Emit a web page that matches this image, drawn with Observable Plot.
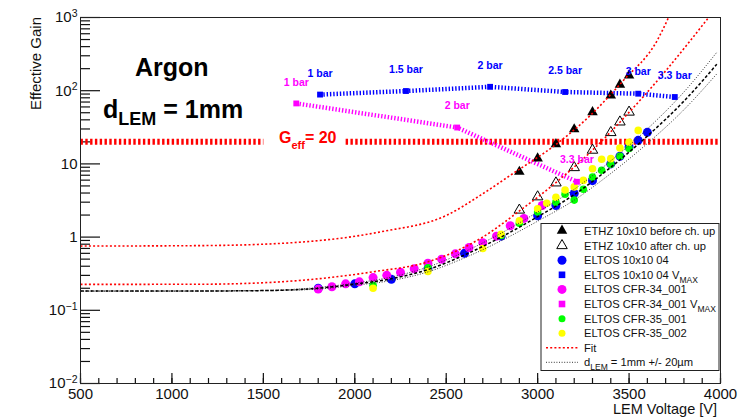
<!DOCTYPE html>
<html><head><meta charset="utf-8">
<script src="https://cdn.jsdelivr.net/npm/d3@7"></script>
<script src="https://cdn.jsdelivr.net/npm/@observablehq/plot@0.6"></script>
<style>
body{margin:0;background:#fff;}
#chart svg{display:block;}
</style></head><body><div id="chart"></div>
<script>
// ---------- data ----------
const ethzBeforeV = [2900, 3000, 3100, 3200, 3300, 3400, 3450, 3500];
const ethzBeforeG = [7.8, 11.9, 18.6, 29.7, 51, 86, 121, 162];
const ethzAfterV  = [2900, 3000, 3100, 3200, 3300, 3400, 3450, 3500];
const ethzAfterG  = [2.34, 3.55, 5.5, 8.9, 15.4, 26.8, 37.4, 51];

const eltos04V = [1800, 2000, 2200, 2400, 2600, 2800, 3000, 3100, 3200, 3300, 3400, 3450, 3500, 3550, 3600];
const eltos04G = [0.20, 0.23, 0.265, 0.37, 0.60, 1.03, 1.95, 2.7, 3.95, 5.9, 10, 12.7, 17, 21, 27];
const eltos04MaxV = [1810, 2280, 2740, 3150, 3550, 3750];
const eltos04MaxG = [88.5, 99, 113, 96, 91, 82];
const eltos04MaxLabel = ["1 bar", "1.5 bar", "2 bar", "2.5 bar", "3 bar", "3.3 bar"];
const eltos04MaxLabelG = [173, 196, 222, 190, 181, 162];

const cfr34V = [1800, 1875, 1950, 2025, 2100, 2175, 2250, 2325, 2400, 2475, 2550, 2625, 2700, 2775, 2850, 2925, 3025];
const cfr34G = [0.195, 0.21, 0.23, 0.245, 0.28, 0.30, 0.33, 0.37, 0.44, 0.50, 0.59, 0.72, 0.84, 1.03, 1.43, 1.8, 2.7];
const cfr34MaxV = [1680, 2560, 3215];
const cfr34MaxG = [67, 31.4, 5.7];
const cfr34MaxLabel = ["1 bar", "2 bar", "3.3 bar"];
const cfr34MaxLabelG = [127, 63, 11.5];

const cfr35aV = [2100, 2400, 2800, 2900, 3000, 3100, 3150, 3200, 3250, 3300, 3350, 3400, 3450, 3500];
const cfr35aG = [0.22, 0.38, 1.05, 1.55, 2.2, 3.0, 3.86, 3.2, 4.5, 6.6, 8.2, 9.9, 12.7, 16.2];
const cfr35bV = [2100, 2400, 2700, 2800, 2900, 3000, 3050, 3100, 3150, 3200, 3250, 3300, 3350, 3400, 3450, 3500, 3550];
const cfr35bG = [0.20, 0.34, 0.70, 1.09, 1.67, 2.43, 2.9, 3.5, 4.4, 4.85, 5.95, 8.6, 11.6, 11.8, 16.5, 19.8, 28.7];

const fitUpperV = [500, 1156, 1594, 2141, 2505, 2688, 2868, 3107, 3289, 3470, 3654, 3716];
const fitUpperG = [0.754, 0.765, 0.82, 1.18, 2.0, 3.74, 7.47, 19.0, 46.2, 139, 487, 1000];
const fitLowerV = [500, 1156, 1594, 2101, 2401, 2688, 2907, 3098, 3300, 3501, 3672, 3836, 3935];
const fitLowerG = [0.226, 0.227, 0.245, 0.336, 0.46, 0.96, 2.34, 5.5, 15.4, 51, 154, 487, 1000];

const dlemV     = [500, 1000, 1500, 1800, 2000, 2200, 2400, 2600, 2800, 3000, 3200, 3400, 3600, 3800, 3980];
const dlemG     = [0.183, 0.183, 0.186, 0.20, 0.228, 0.27, 0.36, 0.57, 1.0, 1.9, 3.8, 9.0, 24, 72, 230];
const dlemHighG = [0.183, 0.183, 0.187, 0.205, 0.235, 0.285, 0.39, 0.63, 1.13, 2.2, 4.5, 11, 30, 96, 335];
const dlemLowG  = [0.183, 0.183, 0.185, 0.195, 0.22, 0.255, 0.335, 0.52, 0.89, 1.65, 3.2, 7.4, 19, 55, 170];

const gEffV = [[500, 1500], [1950, 4000]];
const gEffValue = 20;

const xMajorTicks = [500, 1000, 1500, 2000, 2500, 3000, 3500, 4000];
const yMajorTicks = [0.01, 0.1, 1, 10, 100, 1000];
const yTickLabels = ["10^−2", "10^−1", "1", "10", "10^2", "10^3"];

const legendLabels = ["ETHZ 10x10 before ch. up", "ETHZ 10x10 after ch. up", "ELTOS 10x10 04",
  "ELTOS 10x10 04 V|MAX", "ELTOS CFR-34_001", "ELTOS CFR-34_001 V|MAX", "ELTOS CFR-35_001",
  "ELTOS CFR-35_002", "Fit", "d|LEM| = 1mm +/- 20µm"];

// ---------- helpers ----------
const pts = (V, G) => V.map((v, i) => ({v, g: G[i]}));
const xMinor = d3.range(500, 4001, 100);
const yMinor = [];
for (const d of [0.01, 0.1, 1, 10, 100]) for (let k = 2; k <= 9; k++) yMinor.push(+(d * k).toPrecision(3));

const W = 756, H = 417, ML = 80, MR = 36, MT = 17, MB = 34;
const FONT = "'Liberation Sans', Arial, Helvetica, sans-serif";
const BLUE = "#0000ff", MAG = "#ff00ff", GREEN = "#00ff00", YEL = "#ffff00", RED = "#ff0000";
const butt = {strokeLinecap: "butt", strokeLinejoin: "miter"};
const TICK = "#111";

const chart = Plot.plot({
  width: W, height: H,
  marginLeft: ML, marginRight: MR, marginTop: MT, marginBottom: MB,
  style: {fontFamily: FONT, background: "#fff"},
  x: {domain: [500, 4000], label: null},
  y: {type: "log", domain: [0.01, 1000], label: null},
  marks: [
    // ROOT-style inside ticks (axis ticks shifted into the frame)
    Plot.axisX({ticks: xMinor, tickSize: 5, dy: -5, tickFormat: () => "", stroke: TICK, strokeWidth: 1.2, label: null}),
    Plot.axisX({ticks: xMajorTicks, tickSize: 10, dy: -10, tickFormat: () => "", stroke: TICK, strokeWidth: 1.2, label: null}),
    Plot.axisY({ticks: yMinor, tickSize: 10, dx: 10, tickFormat: () => "", stroke: TICK, strokeWidth: 1.2, label: null}),
    Plot.axisY({ticks: yMajorTicks, tickSize: 20, dx: 20, tickFormat: () => "", stroke: TICK, strokeWidth: 1.2, label: null}),
    Plot.axisX({ticks: xMajorTicks, tickSize: 0, tickPadding: 5, fontSize: 15, fill: "#111", tickFormat: d => String(d), label: null}),
    Plot.axisY({ticks: yMajorTicks, tickSize: 0, tickPadding: 3, fontSize: 15, fill: "#111", label: null,
      tickFormat: d => yTickLabels[yMajorTicks.indexOf(d)]}),

    // G_eff = 20 line
    ...gEffV.map(seg => Plot.line(seg.map(v => ({v, g: gEffValue})), {x: "v", y: "g", stroke: RED, strokeWidth: 6, strokeDasharray: "2.4,2.4", ...butt})),

    // VMAX dotted lines
    Plot.line(pts(eltos04MaxV, eltos04MaxG), {x: "v", y: "g", stroke: BLUE, strokeWidth: 4.5, strokeDasharray: "1.4,1.9", ...butt}),
    Plot.line(pts(cfr34MaxV, cfr34MaxG), {x: "v", y: "g", stroke: MAG, strokeWidth: 4.5, strokeDasharray: "1.4,1.9", ...butt}),

    // data points
    Plot.dot(pts(eltos04V, eltos04G), {x: "v", y: "g", r: 4.5, fill: BLUE}),
    Plot.dot(pts(cfr34V, cfr34G), {x: "v", y: "g", r: 4.5, fill: MAG}),
    Plot.dot(pts(cfr35aV, cfr35aG), {x: "v", y: "g", r: 3.8, fill: GREEN}),
    Plot.dot(pts(cfr35bV, cfr35bG), {x: "v", y: "g", r: 3.8, fill: YEL}),
    Plot.dot(pts(ethzBeforeV, ethzBeforeG), {x: "v", y: "g", symbol: "triangle", r: 3.9, fill: "#000"}),
    Plot.dot(pts(ethzAfterV, ethzAfterG), {x: "v", y: "g", symbol: "triangle", r: 3.9, fill: "none", stroke: "#000", strokeWidth: 1}),
    Plot.dot(pts(eltos04MaxV, eltos04MaxG), {x: "v", y: "g", symbol: "square", r: 3.3, fill: BLUE}),
    Plot.dot(pts(cfr34MaxV, cfr34MaxG), {x: "v", y: "g", symbol: "square", r: 3.3, fill: MAG}),

    // curves
    Plot.line(pts(dlemV, dlemHighG), {x: "v", y: "g", stroke: "#333", strokeWidth: 1, strokeDasharray: "1,1.6", curve: "monotone-x", clip: true, ...butt}),
    Plot.line(pts(dlemV, dlemLowG), {x: "v", y: "g", stroke: "#333", strokeWidth: 1, strokeDasharray: "1,1.6", curve: "monotone-x", clip: true, ...butt}),
    Plot.line(pts(dlemV, dlemG), {x: "v", y: "g", stroke: "#000", strokeWidth: 1.5, strokeDasharray: "3,2", curve: "monotone-x", clip: true, ...butt}),
    Plot.line(pts(fitUpperV, fitUpperG), {x: "v", y: "g", stroke: RED, strokeWidth: 1.6, strokeDasharray: "2,2.2", curve: "monotone-x", clip: true, ...butt}),
    Plot.line(pts(fitLowerV, fitLowerG), {x: "v", y: "g", stroke: RED, strokeWidth: 1.6, strokeDasharray: "2,2.2", curve: "monotone-x", clip: true, ...butt}),

    // pressure labels
    Plot.text(eltos04MaxV.map((v, i) => ({v, g: eltos04MaxLabelG[i], t: eltos04MaxLabel[i]})), {x: "v", y: "g", text: "t", fill: BLUE, fontWeight: "bold", fontSize: 10.5}),
    Plot.text(cfr34MaxV.map((v, i) => ({v, g: cfr34MaxLabelG[i], t: cfr34MaxLabel[i]})), {x: "v", y: "g", text: "t", fill: MAG, fontWeight: "bold", fontSize: 10.5}),

    Plot.frame({stroke: "#222", strokeWidth: 1})
  ]
});
document.getElementById("chart").appendChild(chart);

const svg = d3.select(chart);

// superscripts on y tick labels
svg.selectAll('g[aria-label="y-axis tick label"] text').each(function () {
  const t = d3.select(this);
  const s = t.text();
  const m = s.match(/^10\^(.+)$/);
  if (m) {
    t.text("");
    t.append("tspan").text("10");
    t.append("tspan").attr("dy", "-0.5em").attr("font-size", "10.5px").text(m[1]);
  }
});

// axis titles
svg.append("text").attr("transform", "translate(41,17) rotate(-90)").attr("text-anchor", "end")
  .attr("font-family", FONT).attr("font-size", 15).attr("fill", "#111").text("Effective Gain");
svg.append("text").attr("x", 717).attr("y", 414).attr("text-anchor", "end")
  .attr("font-family", FONT).attr("font-size", 14.5).attr("fill", "#111").text("LEM Voltage [V]");

// annotations
svg.append("text").attr("x", 135).attr("y", 76).attr("text-anchor", "start").attr("font-family", FONT).attr("font-weight", "bold")
  .attr("font-size", 25).text("Argon");
const dl = svg.append("text").attr("x", 103).attr("y", 118).attr("text-anchor", "start").attr("font-family", FONT).attr("font-weight", "bold").attr("font-size", 25);
dl.append("tspan").text("d");
dl.append("tspan").attr("font-size", 18).attr("dy", 7).text("LEM");
dl.append("tspan").attr("dy", -7).text(" = 1mm");
const ge = svg.append("text").attr("x", 279).attr("y", 143).attr("text-anchor", "start").attr("font-family", FONT).attr("font-weight", "bold").attr("font-size", 16).attr("fill", RED);
ge.append("tspan").text("G");
ge.append("tspan").attr("font-size", 11).attr("dy", 6).text("eff");
ge.append("tspan").attr("dy", -6).text("= 20");

// legend box
const lg = svg.append("g").attr("font-family", FONT).attr("font-size", 11.2).attr("text-anchor", "start");
lg.append("rect").attr("x", 541).attr("y", 223.5).attr("width", 178).attr("height", 147)
  .attr("fill", "#fff").attr("stroke", "#222").attr("stroke-width", 1);
const rowY = [230.7, 245.6, 260.3, 274.8, 289.4, 304, 318.7, 333.3, 347.8, 362.3];
const sym = (type, size) => d3.symbol().type(type).size(size)();
const mk = [
  g => g.append("path").attr("d", sym(d3.symbolTriangle, 48)).attr("fill", "#000"),
  g => g.append("path").attr("d", sym(d3.symbolTriangle, 48)).attr("fill", "none").attr("stroke", "#000"),
  g => g.append("circle").attr("r", 4.5).attr("fill", BLUE),
  g => g.append("rect").attr("x", -3.3).attr("y", -3.3).attr("width", 6.6).attr("height", 6.6).attr("fill", BLUE),
  g => g.append("circle").attr("r", 4.5).attr("fill", MAG),
  g => g.append("rect").attr("x", -3.3).attr("y", -3.3).attr("width", 6.6).attr("height", 6.6).attr("fill", MAG),
  g => g.append("circle").attr("r", 3.5).attr("fill", GREEN),
  g => g.append("circle").attr("r", 3.5).attr("fill", YEL),
  g => g.append("line").attr("x1", -16).attr("x2", 16).attr("stroke", RED).attr("stroke-width", 1.6).attr("stroke-dasharray", "2,2.2"),
  g => g.append("line").attr("x1", -16).attr("x2", 16).attr("stroke", "#333").attr("stroke-width", 1).attr("stroke-dasharray", "1,1.6")
];
legendLabels.forEach((lab, i) => {
  const g = lg.append("g").attr("transform", `translate(562,${rowY[i]})`);
  mk[i](g);
  const t = lg.append("text").attr("x", 584).attr("y", rowY[i] + 4).attr("fill", "#111");
  const parts = lab.split("|");
  t.append("tspan").text(parts[0]);
  if (parts.length > 1) {
    t.append("tspan").attr("font-size", 8.5).attr("dy", 4).text(parts[1]);
    if (parts[2]) t.append("tspan").attr("dy", -4).text(parts[2]);
  }
});
</script>
</body></html>
